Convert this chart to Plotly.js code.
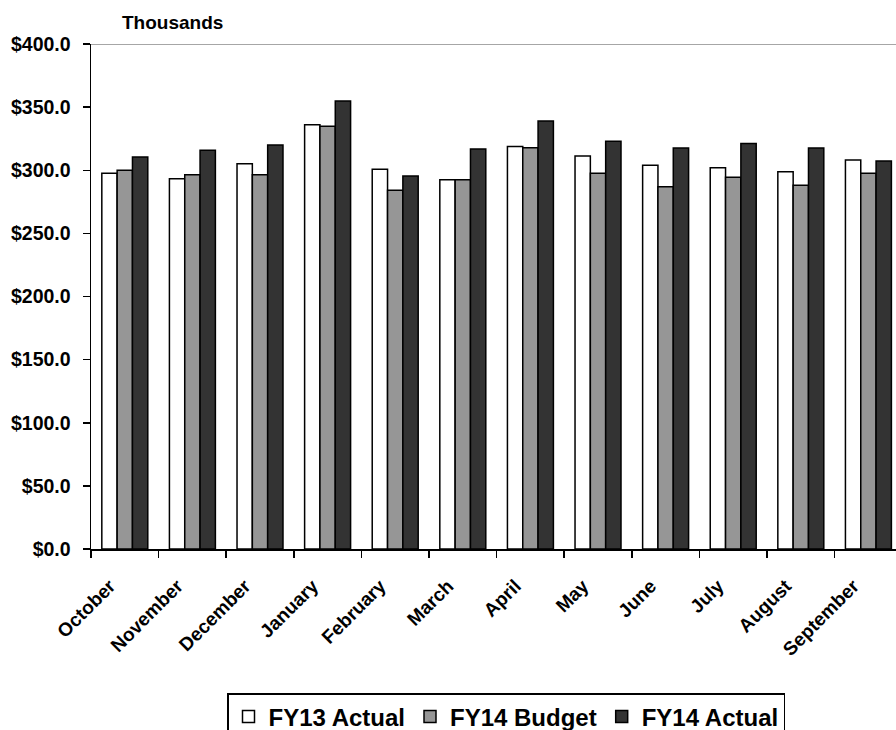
<!DOCTYPE html>
<html>
<head>
<meta charset="utf-8">
<script src="https://cdn.plot.ly/plotly-3.0.1.min.js"></script>
<style>
  html, body { margin: 0; padding: 0; background: #fff; }
  #chart { width: 896px; height: 730px; }
</style>
</head>
<body>
<div id="chart"></div>
<script>
// Monthly totals, in thousands of dollars
const months = ["October", "November", "December", "January", "February", "March",
                "April", "May", "June", "July", "August", "September"];
const fy13Actual = [297.6, 293.3, 305.2, 336.1, 300.7, 292.5, 318.9, 311.3, 303.9, 302.0, 298.9, 308.1];
const fy14Budget = [300.0, 296.5, 296.5, 334.8, 284.1, 292.5, 317.9, 297.6, 287.0, 294.4, 288.1, 297.6];
const fy14Actual = [310.5, 315.8, 320.0, 354.9, 295.4, 316.8, 339.0, 322.9, 317.6, 321.1, 317.6, 307.3];
const seriesNames = ["FY13 Actual", "FY14 Budget", "FY14 Actual"];
const yTicks = [0, 50, 100, 150, 200, 250, 300, 350, 400];

const FONT = '"Liberation Sans", Arial, sans-serif';
const fills = ["#ffffff", "#969696", "#333333"];
const values = [fy13Actual, fy14Budget, fy14Actual];

// slanted month labels end a little left of and below each group's centre
const PAD = "\u00a0\u00a0\u00a0\u00a0";
const monthLabels = months.map(m => m + PAD);

const traces = values.map((v, i) => ({
  type: "bar",
  name: seriesNames[i],
  x: months,
  y: v,
  marker: { color: fills[i], line: { color: "#000000", width: 1.5 } },
  hoverinfo: "x+y+name"
}));

const layout = {
  width: 896,
  height: 730,
  paper_bgcolor: "#ffffff",
  plot_bgcolor: "#ffffff",
  margin: { l: 91, r: 0, t: 44, b: 181, autoexpand: false },
  font: { family: FONT, color: "#000000" },
  title: {
    text: "Thousands",
    font: { family: FONT, size: 19, weight: "bold", color: "#000000" },
    xref: "container", yref: "container",
    x: 122 / 896, xanchor: "left",
    y: 1 - 22 / 730, yanchor: "middle"
  },
  barmode: "group",
  bargap: 0.32,
  bargroupgap: 0,
  xaxis: {
    type: "category",
    range: [-0.5, 11.408],
    tickmode: "array",
    tickvals: months,
    ticktext: monthLabels,
    showgrid: false,
    zeroline: false,
    showline: true,
    linecolor: "#000000",
    linewidth: 1.5,
    ticks: "outside",
    tickson: "boundaries",
    ticklen: 7,
    tickwidth: 1.5,
    tickcolor: "#000000",
    tickangle: -45,
    ticklabelstandoff: 2,
    tickfont: { family: FONT, size: 19, weight: "bold", color: "#000000" }
  },
  yaxis: {
    range: [0, 400],
    tickvals: yTicks,
    tickformat: "$,.1f",
    showgrid: false,
    zeroline: false,
    showline: true,
    linecolor: "#000000",
    linewidth: 1.5,
    ticks: "outside",
    ticklen: 7,
    tickwidth: 1.5,
    tickcolor: "#000000",
    ticklabelstandoff: 8,
    tickfont: { family: FONT, size: 19.5, weight: "bold", color: "#000000" }
  },
  shapes: [{
    type: "line", xref: "paper", yref: "y",
    x0: 0, x1: 1, y0: 400, y1: 400,
    line: { color: "#888888", width: 1.5 }
  }],
  showlegend: true,
  legend: {
    orientation: "h",
    xref: "container", yref: "container",
    x: 506 / 896, xanchor: "center",
    y: 1 - 693 / 730, yanchor: "top",
    bordercolor: "#000000",
    borderwidth: 1.5,
    bgcolor: "#ffffff",
    traceorder: "normal",
    font: { family: FONT, size: 24, weight: "bold", color: "#000000" }
  }
};

Plotly.newPlot("chart", traces, layout, { displayModeBar: false, staticPlot: true });
</script>
</body>
</html>
